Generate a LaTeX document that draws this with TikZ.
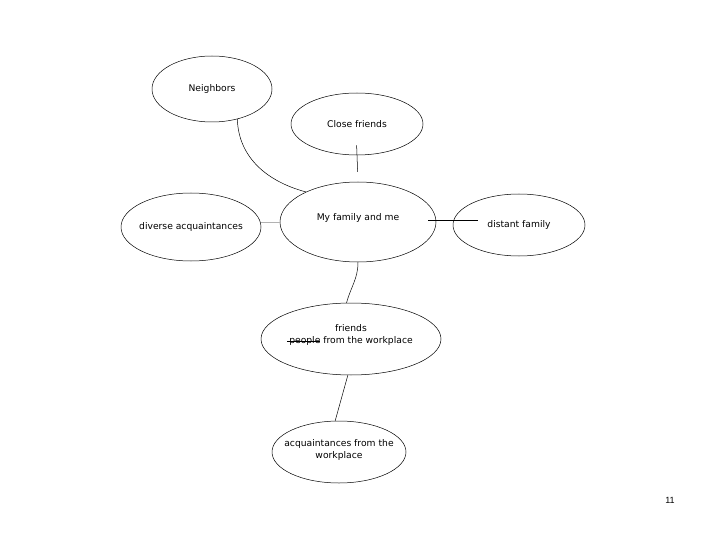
\documentclass[tikz,border=0pt]{standalone}
\usepackage{fontspec}
\setmainfont{DejaVu Sans}
\newfontfamily\pagefont{Liberation Sans}
\usetikzlibrary{shapes.geometric}
\newcommand{\strikeword}[1]{{\setbox0\hbox{#1}\rlap{\kern-2pt\rule[0.45ex]{\dimexpr\wd0+2pt}{0.5pt}}\box0}}
\begin{document}
\begin{tikzpicture}[x=1pt,y=-1pt, every node/.style={font=\fontsize{9.2}{12}\selectfont},
  bubble/.style={draw,ellipse,line width=0.5pt,inner sep=0pt},
  link/.style={line width=0.5pt}]
  \useasboundingbox[fill=white] (0,0) rectangle (720,540);
  \node[bubble,minimum width=120pt,minimum height=66pt,label={center:Neighbors}] (nb) at (212,89) {};
  \node[bubble,minimum width=132pt,minimum height=62pt,label={center:Close friends}] (cf) at (357,124) {};
  \node[bubble,minimum width=156pt,minimum height=80pt,label={[yshift=4pt]center:My family and me}] (fam) at (358,222) {};
  \node[bubble,minimum width=140pt,minimum height=68pt,label={center:diverse acquaintances}] (div) at (191,227) {};
  \node[bubble,minimum width=132pt,minimum height=62pt,label={center:distant family}] (dis) at (519,225) {};
  \node[bubble,minimum width=180pt,minimum height=72pt,label={[align=center,yshift=4pt]center:friends\\\strikeword{people} from the workplace}] (fr) at (351,339) {};
  \node[bubble,minimum width=134pt,minimum height=62pt,label={[align=center,yshift=2pt]center:acquaintances from the\\workplace}] (acq) at (339,452) {};
  \node[font=\pagefont\fontsize{9}{11}\selectfont] (pg) at (670,500) {11};
  % connectors
  \draw[link] (nb.-50) to[out=-88,in=165] (fam.150);
  \draw[link,shorten <=-10pt,shorten >=10pt] (cf.south) -- (fam.north);
  \draw[link,gray!60] (div.east |- fam.west) -- (fam.west);
  \draw[link,shorten <=-8pt,shorten >=-25pt] ([yshift=2pt]fam.east) -- ([yshift=2pt]fam.east -| dis.west);
  \draw[link] (fam.south) to[out=-90,in=75] (fr.97);
  \draw[link] (fr.-95) -- (acq.97);
\end{tikzpicture}
\end{document}
